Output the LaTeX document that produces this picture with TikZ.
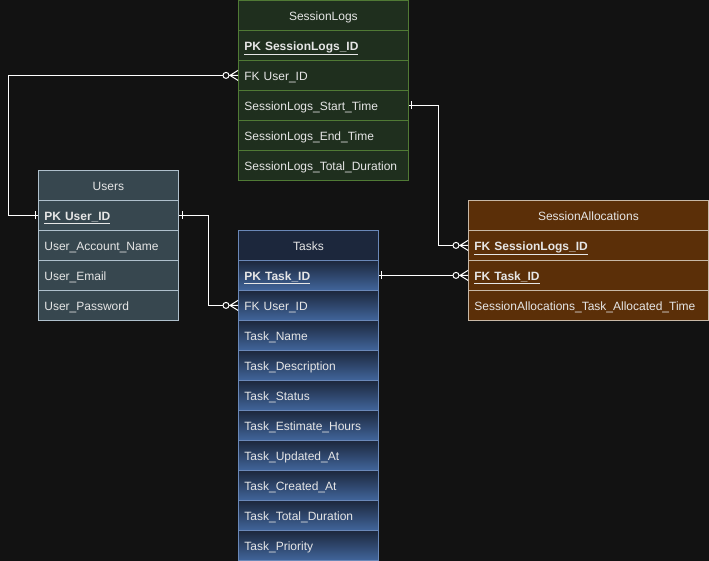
\documentclass[tikz,border=0pt]{standalone}
\usepackage{fontspec}
\setmainfont{Liberation Sans}
\usetikzlibrary{calc}
\definecolor{bg}{HTML}{121212}
\definecolor{txt}{HTML}{E6E6E6}
\definecolor{ufill}{HTML}{37474F}
\definecolor{uline}{HTML}{AFC0CC}
\definecolor{sfill}{HTML}{1F2F1E}
\definecolor{sline}{HTML}{507A35}
\definecolor{afill}{HTML}{5B2F08}
\definecolor{aline}{HTML}{C8B8A6}
\definecolor{tfill}{HTML}{1C273C}
\definecolor{tbot}{HTML}{41659B}
\definecolor{tline}{HTML}{6A88B8}
\tikzset{
  cell/.style={draw, anchor=north west, minimum height=30pt, inner xsep=6pt, inner ysep=0pt,
    text height=11pt, text depth=1pt,
    font=\fontsize{12}{14}\selectfont, text=txt, line width=0.8pt},
  ucell/.style={cell, fill=ufill, draw=uline, text width=128pt, align=left},
  uhead/.style={ucell, align=center},
  scell/.style={cell, fill=sfill, draw=sline, text width=158pt, align=left},
  shead/.style={scell, align=center},
  acell/.style={cell, fill=afill, draw=aline, text width=228pt, align=left},
  ahead/.style={acell, align=center},
  tcell/.style={cell, top color=tfill, bottom color=tbot, draw=tline, text width=128pt, align=left},
  thead/.style={cell, fill=tfill, draw=tline, text width=128pt, align=center},
  conn/.style={draw=white, line width=1pt},
  erone/.pic={\draw[conn] (0,-4) -- (0,4);},
  erzmany/.pic={\draw[conn] (-8,0) -- (0,-5) (-8,0) -- (0,5) (-8,0) -- (0,0);
                \draw[conn, fill=bg] (-12,0) circle (3pt);}
}
\newcommand{\pkey}[1]{\underline{\textbf{#1}}}
\begin{document}
\begin{tikzpicture}[x=1pt, y=-1pt]
\fill[bg] (0,0) rectangle (709,561);
\useasboundingbox (0,0) rectangle (709,561);

% SessionLogs
\node[shead] (SL-h)  at (238,0)   {SessionLogs};
\node[scell] (SL-pk) at (238,30)  {\pkey{PK SessionLogs\_ID}};
\node[scell] (SL-fk) at (238,60)  {FK User\_ID};
\node[scell] (SL-st) at (238,90)  {SessionLogs\_Start\_Time};
\node[scell] (SL-et) at (238,120) {SessionLogs\_End\_Time};
\node[scell] (SL-td) at (238,150) {SessionLogs\_Total\_Duration};

% Users
\node[uhead] (U-h)  at (38,170) {Users};
\node[ucell] (U-pk) at (38,200) {\pkey{PK User\_ID}};
\node[ucell] (U-an) at (38,230) {User\_Account\_Name};
\node[ucell] (U-em) at (38,260) {User\_Email};
\node[ucell] (U-pw) at (38,290) {User\_Password};

% Tasks
\node[thead] (T-h)  at (238,230) {Tasks};
\node[tcell] (T-pk) at (238,260) {\pkey{PK Task\_ID}};
\node[tcell] (T-fk) at (238,290) {FK User\_ID};
\node[tcell] (T-nm) at (238,320) {Task\_Name};
\node[tcell] (T-ds) at (238,350) {Task\_Description};
\node[tcell] (T-st) at (238,380) {Task\_Status};
\node[tcell] (T-eh) at (238,410) {Task\_Estimate\_Hours};
\node[tcell] (T-ua) at (238,440) {Task\_Updated\_At};
\node[tcell] (T-ca) at (238,470) {Task\_Created\_At};
\node[tcell] (T-td) at (238,500) {Task\_Total\_Duration};
\node[tcell] (T-pr) at (238,530) {Task\_Priority};

% SessionAllocations
\node[ahead] (A-h)  at (468,200) {SessionAllocations};
\node[acell] (A-sl) at (468,230) {\pkey{FK SessionLogs\_ID}};
\node[acell] (A-tk) at (468,260) {\pkey{FK Task\_ID}};
\node[acell] (A-at) at (468,290) {SessionAllocations\_Task\_Allocated\_Time};

% connectors
\draw[conn] (U-pk.west) -- ++(-30,0) |- (SL-fk.west);
\draw[conn] (U-pk.east) -- ++(30,0) |- (T-fk.west);
\draw[conn] (SL-st.east) -- ++(30,0) |- (A-sl.west);
\draw[conn] (T-pk.east) -- (A-tk.west);

% end marks
\pic at ($(U-pk.west)+(-3,0)$) {erone};
\pic at ($(U-pk.east)+(4,0)$) {erone};
\pic at ($(SL-st.east)+(3,0)$) {erone};
\pic at ($(T-pk.east)+(3,0)$) {erone};
\pic at (SL-fk.west) {erzmany};
\pic at (T-fk.west) {erzmany};
\pic at (A-sl.west) {erzmany};
\pic at (A-tk.west) {erzmany};
\end{tikzpicture}
\end{document}
